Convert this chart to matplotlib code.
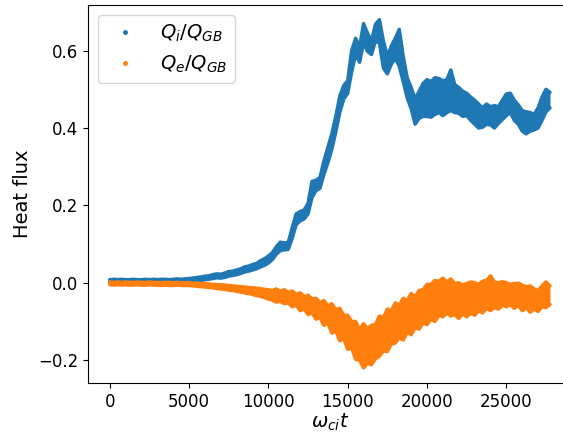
import matplotlib
matplotlib.use("Agg")
import matplotlib.pyplot as plt
import numpy as np

# time axis (omega_ci t), one reading every 250
t = np.arange(0, 27751, 250)

# Q_i / Q_GB: top and bottom edge of the noisy band
qi_hi = [0.008, 0.009, 0.008, 0.009, 0.008, 0.008, 0.009, 0.008, 0.008, 0.009,
         0.008, 0.009, 0.008, 0.009, 0.009, 0.008, 0.009, 0.010, 0.009, 0.010,
         0.011, 0.012, 0.014, 0.015, 0.017, 0.018, 0.021, 0.023, 0.022, 0.025,
         0.029, 0.030, 0.033, 0.036, 0.041, 0.043, 0.047, 0.050, 0.057, 0.062,
         0.069, 0.078, 0.093, 0.105, 0.103, 0.104, 0.142, 0.178, 0.184, 0.188,
         0.205, 0.262, 0.265, 0.272, 0.315, 0.350, 0.385, 0.430, 0.482, 0.510,
         0.522, 0.600, 0.632, 0.610, 0.670, 0.645, 0.625, 0.668, 0.680, 0.625,
         0.585, 0.612, 0.632, 0.655, 0.585, 0.530, 0.505, 0.475, 0.495, 0.515,
         0.525, 0.520, 0.530, 0.528, 0.522, 0.525, 0.550, 0.512, 0.505, 0.495,
         0.490, 0.480, 0.472, 0.462, 0.452, 0.462, 0.455, 0.458, 0.455, 0.472,
         0.488, 0.490, 0.472, 0.460, 0.445, 0.442, 0.440, 0.435, 0.452, 0.480,
         0.500, 0.492]
qi_lo = [0.001, 0.002, 0.001, 0.002, 0.001, 0.001, 0.002, 0.001, 0.001, 0.002,
         0.001, 0.002, 0.001, 0.002, 0.002, 0.001, 0.002, 0.002, 0.002, 0.002,
         0.003, 0.004, 0.005, 0.006, 0.008, 0.009, 0.011, 0.013, 0.012, 0.014,
         0.017, 0.019, 0.021, 0.024, 0.028, 0.030, 0.033, 0.036, 0.041, 0.045,
         0.051, 0.060, 0.074, 0.083, 0.085, 0.086, 0.115, 0.150, 0.160, 0.165,
         0.178, 0.220, 0.238, 0.244, 0.280, 0.310, 0.345, 0.390, 0.440, 0.475,
         0.490, 0.545, 0.590, 0.570, 0.620, 0.598, 0.590, 0.625, 0.620, 0.555,
         0.540, 0.565, 0.580, 0.560, 0.520, 0.478, 0.450, 0.410, 0.425, 0.430,
         0.430, 0.428, 0.435, 0.440, 0.432, 0.440, 0.445, 0.440, 0.438, 0.430,
         0.432, 0.420, 0.410, 0.400, 0.402, 0.410, 0.408, 0.400, 0.412, 0.422,
         0.432, 0.440, 0.420, 0.410, 0.392, 0.385, 0.392, 0.395, 0.400, 0.420,
         0.442, 0.452]

# Q_e / Q_GB
qe_hi = [0.002, 0.001, 0.002, 0.001, 0.002, 0.001, 0.001, 0.002, 0.001, 0.001,
         0.002, 0.001, 0.001, 0.000, 0.001, 0.001, 0.000, 0.001, 0.000, 0.000,
         0.000, -0.001, -0.001, -0.002, -0.002, -0.003, -0.004, -0.005, -0.005, -0.006,
         -0.007, -0.008, -0.009, -0.010, -0.011, -0.012, -0.013, -0.014, -0.015, -0.017,
         -0.018, -0.020, -0.016, -0.022, -0.018, -0.025, -0.021, -0.030, -0.026, -0.036,
         -0.032, -0.042, -0.040, -0.052, -0.046, -0.060, -0.054, -0.070, -0.066, -0.084,
         -0.084, -0.100, -0.100, -0.120, -0.106, -0.118, -0.110, -0.108, -0.086, -0.090,
         -0.068, -0.072, -0.052, -0.058, -0.040, -0.046, -0.028, -0.036, -0.020, -0.018,
         -0.004, -0.004, 0.006, 0.004, 0.012, 0.002, 0.010, -0.002, 0.000, -0.006,
         -0.002, 0.002, 0.000, -0.004, 0.004, 0.006, 0.018, 0.002, 0.000, 0.003,
         0.000, -0.004, -0.002, -0.001, -0.006, -0.010, -0.008, -0.016, -0.020, -0.008,
         0.002, -0.008]
qe_lo = [-0.005, -0.006, -0.005, -0.006, -0.005, -0.006, -0.006, -0.005, -0.006, -0.006,
         -0.005, -0.006, -0.006, -0.007, -0.006, -0.007, -0.007, -0.006, -0.007, -0.007,
         -0.007, -0.008, -0.009, -0.010, -0.011, -0.012, -0.013, -0.015, -0.016, -0.017,
         -0.019, -0.020, -0.022, -0.024, -0.026, -0.028, -0.030, -0.033, -0.035, -0.038,
         -0.042, -0.045, -0.050, -0.048, -0.054, -0.052, -0.062, -0.058, -0.072, -0.068,
         -0.082, -0.078, -0.094, -0.090, -0.110, -0.104, -0.130, -0.124, -0.150, -0.144,
         -0.172, -0.168, -0.198, -0.200, -0.220, -0.208, -0.212, -0.196, -0.190, -0.176,
         -0.178, -0.158, -0.156, -0.142, -0.148, -0.128, -0.134, -0.116, -0.120, -0.104,
         -0.108, -0.094, -0.100, -0.084, -0.088, -0.078, -0.086, -0.082, -0.092, -0.080,
         -0.088, -0.078, -0.084, -0.072, -0.078, -0.066, -0.072, -0.064, -0.068, -0.058,
         -0.062, -0.056, -0.066, -0.058, -0.072, -0.064, -0.076, -0.068, -0.074, -0.062,
         -0.064, -0.056]

blue = '#1f77b4'
orange = '#ff7f0e'

fig = plt.figure(figsize=(5.63, 4.33), dpi=100)
ax = fig.add_axes([0.1563, 0.1155, 0.86, 0.873])

# dense noisy traces drawn as a band between the edges, with round edges
for hi, lo, c in [(qi_hi, qi_lo, blue), (qe_hi, qe_lo, orange)]:
    ax.fill_between(t, lo, hi, color=c, lw=0)
    ax.plot(t, hi, color=c, lw=2.5, solid_capstyle='round')
    ax.plot(t, lo, color=c, lw=2.5, solid_capstyle='round')

# legend entries: dot markers only
ax.plot([], [], '.', color=blue, ms=5, label=r'$Q_i/Q_{GB}$')
ax.plot([], [], '.', color=orange, ms=5, label=r'$Q_e/Q_{GB}$')

ax.set_xlim(-1370, 29150)
ax.set_ylim(-0.259, 0.718)
ax.set_xticks([0, 5000, 10000, 15000, 20000, 25000])
ax.set_yticks([-0.2, 0.0, 0.2, 0.4, 0.6])
ax.tick_params(labelsize=12)
ax.set_xlabel(r'$\omega_{ci}t$', fontsize=14, labelpad=1)
ax.set_ylabel('Heat flux', fontsize=14)
ax.legend(loc='upper left', fontsize=14)

fig.savefig('out.png', dpi=100)
